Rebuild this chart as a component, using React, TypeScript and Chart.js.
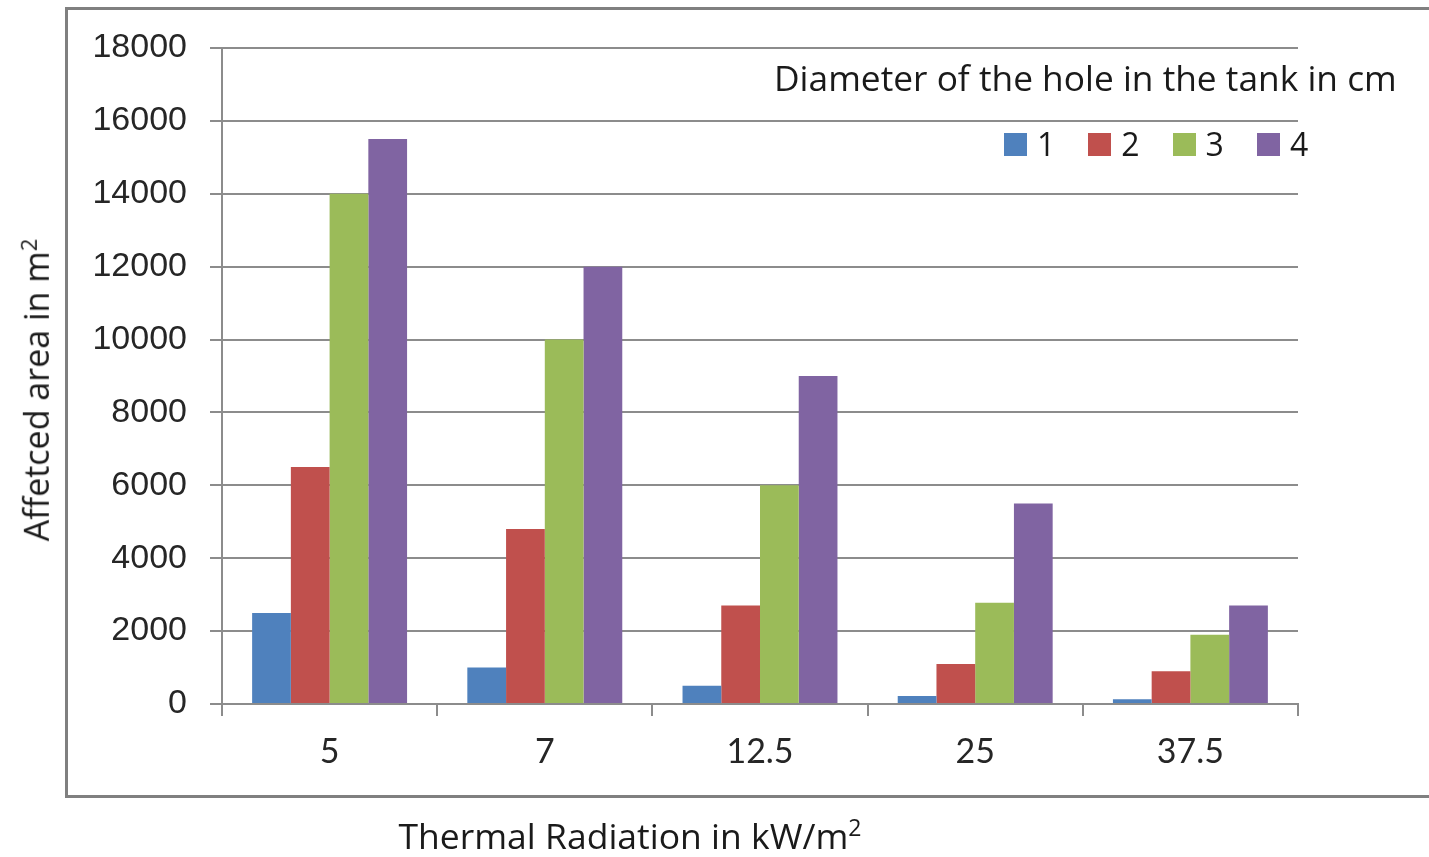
import React, { useEffect, useRef } from "react";
import { Chart, registerables } from "chart.js";

Chart.register(...registerables);

const categories = ["5", "7", "12.5", "25", "37.5"];
const seriesLabels = ["1", "2", "3", "4"];
const series1 = [2500, 1000, 500, 220, 130];
const series2 = [6500, 4800, 2700, 1100, 900];
const series3 = [14000, 10000, 6000, 2780, 1900];
const series4 = [15500, 12000, 9000, 5500, 2700];
const seriesColors = ["#4F81BD", "#C0504D", "#9BBB59", "#8064A2"];
const yMin = 0;
const yMax = 18000;
const yStep = 2000;

const xTitle = "Thermal Radiation in kW/m";
const yTitle = "Affetced area in m";
const legendTitle = "Diameter of the hole in the tank in cm";

const W = 1429;
const H = 857;
const GRID = "#8c8c8c";
const TEXT_FONT = "'Open Sans', sans-serif";

export default function App() {
  const ref = useRef<HTMLCanvasElement | null>(null);

  useEffect(() => {
    if (!ref.current) return;
    const allSeries = [series1, series2, series3, series4];
    const chart = new Chart(ref.current, {
      type: "bar",
      data: {
        labels: categories,
        datasets: allSeries.map((d, i) => ({
          label: seriesLabels[i],
          data: d,
          backgroundColor: seriesColors[i],
          borderWidth: 0,
          categoryPercentage: 0.72,
          barPercentage: 1.0,
        })),
      },
      options: {
        animation: false,
        responsive: false,
        maintainAspectRatio: false,
        layout: { padding: { top: 48, right: 131, left: 0, bottom: 0 } },
        plugins: {
          legend: { display: false },
          tooltip: { enabled: false },
          title: { display: false },
        },
        scales: {
          x: {
            grid: {
              display: true,
              drawOnChartArea: false,
              drawTicks: true,
              tickLength: 12,
              color: GRID,
              lineWidth: 2,
              offset: true,
            },
            border: { display: true, color: GRID, width: 2 },
            ticks: {
              font: { family: "Lato", size: 34 },
              color: "#262626",
              padding: 16,
            },
            afterFit: (s: any) => {
              s.height = 153;
            },
          },
          y: {
            min: yMin,
            max: yMax,
            grid: {
              color: GRID,
              lineWidth: 2,
              drawTicks: true,
              tickLength: 12,
            },
            border: { display: true, color: GRID, width: 2 },
            ticks: {
              stepSize: yStep,
              font: { family: "Liberation Sans", size: 34 },
              color: "#262626",
              padding: 23,
              callback: (v: any) => String(v),
            },
            afterFit: (s: any) => {
              s.width = 222;
            },
          },
        },
      },
    });
    return () => chart.destroy();
  }, []);

  return (
    <div
      style={{
        position: "absolute",
        left: 0,
        top: 0,
        width: W,
        height: H,
        overflow: "hidden",
        background: "#fff",
        fontFamily: TEXT_FONT,
        color: "#1a1a1a",
      }}
    >
      <div
        style={{
          position: "absolute",
          left: 65,
          top: 7,
          width: W - 65,
          height: 791,
          borderTop: "3px solid #808080",
          borderLeft: "3px solid #808080",
          borderBottom: "3px solid #808080",
          borderRight: "none",
          boxSizing: "border-box",
        }}
      />
      <canvas
        ref={ref}
        width={W}
        height={H}
        style={{ position: "absolute", left: 0, top: 0, width: W, height: H, display: "block" }}
      />
      <div
        style={{
          position: "absolute",
          left: 774,
          top: 55,
          fontSize: 35.3,
          lineHeight: "44px",
          whiteSpace: "nowrap",
        }}
      >
        {legendTitle}
      </div>
      <div
        style={{
          position: "absolute",
          left: 1004,
          top: 124,
          display: "flex",
          alignItems: "center",
          fontSize: 32,
          lineHeight: "40px",
          whiteSpace: "nowrap",
        }}
      >
        {seriesLabels.map((l, i) => (
          <div
            key={l}
            style={{ display: "flex", alignItems: "center", marginRight: i < seriesLabels.length - 1 ? 33 : 0 }}
          >
            <span
              style={{
                display: "inline-block",
                width: 23,
                height: 23,
                background: seriesColors[i],
                marginRight: 10,
              }}
            />
            <span>{l}</span>
          </div>
        ))}
      </div>
      <div
        style={{
          position: "absolute",
          left: 630,
          top: 835,
          transform: "translate(-50%, -50%)",
          fontSize: 35.5,
          whiteSpace: "nowrap",
        }}
      >
        {xTitle}
        <sup style={{ fontSize: "0.65em" }}>2</sup>
      </div>
      <div
        style={{
          position: "absolute",
          left: 36,
          top: 390,
          transform: "translate(-50%, -50%) rotate(-90deg)",
          fontSize: 34,
          whiteSpace: "nowrap",
        }}
      >
        {yTitle}
        <sup style={{ fontSize: "0.65em" }}>2</sup>
      </div>
    </div>
  );
}
